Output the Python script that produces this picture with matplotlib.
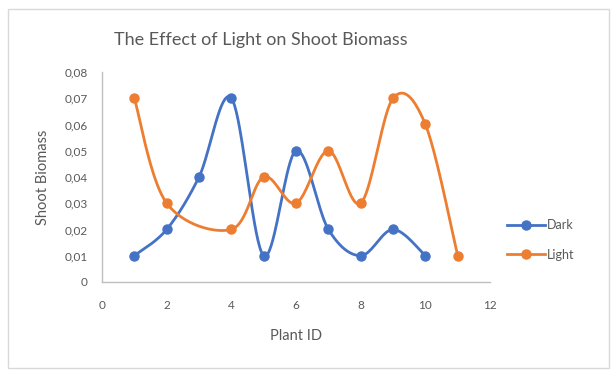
import numpy as np
import matplotlib.pyplot as plt
from matplotlib.patches import Rectangle

plt.rcParams['font.family'] = ['Lato', 'DejaVu Sans']

dark_x = [1, 2, 3, 4, 5, 6, 7, 8, 9, 10]
dark_y = [0.01, 0.02, 0.04, 0.07, 0.01, 0.05, 0.02, 0.01, 0.02, 0.01]
light_x = [1, 2, 4, 5, 6, 7, 8, 9, 10, 11]
light_y = [0.07, 0.03, 0.02, 0.04, 0.03, 0.05, 0.03, 0.07, 0.06, 0.01]

y_ticks = [0, 0.01, 0.02, 0.03, 0.04, 0.05, 0.06, 0.07, 0.08]
y_labels = ["0", "0,01", "0,02", "0,03", "0,04", "0,05", "0,06", "0,07", "0,08"]
x_ticks = [0, 2, 4, 6, 8, 10, 12]


def smooth(xs, ys, n=40):
    # Excel-like smoothed line: cubic bezier with Catmull-Rom control points
    p = np.column_stack([xs, ys]).astype(float)
    p = np.vstack([p[0], p, p[-1]])
    out = []
    t = np.linspace(0, 1, n)[:, None]
    for i in range(1, len(p) - 2):
        p0, p1, p2, p3 = p[i - 1], p[i], p[i + 1], p[i + 2]
        c1 = p1 + (p2 - p0) / 6
        c2 = p2 - (p3 - p1) / 6
        seg = ((1 - t) ** 3) * p1 + 3 * ((1 - t) ** 2) * t * c1 + 3 * (1 - t) * t ** 2 * c2 + t ** 3 * p2
        out.append(seg)
    out = np.vstack(out)
    return out[:, 0], out[:, 1]


blue = '#4472C4'
orange = '#ED7D31'
grey = '#595959'

fig = plt.figure(figsize=(6.16, 3.79), dpi=100)
ax = fig.add_axes([0.1656, 0.2562, 0.63, 0.5538])

sx, sy = smooth(dark_x, dark_y)
ax.plot(sx, sy, color=blue, lw=2)
ax.plot(dark_x, dark_y, 'o', color=blue, ms=6.5)
ax.plot([], [], '-o', color=blue, lw=2, ms=6.5, label='Dark')

sx, sy = smooth(light_x, light_y)
ax.plot(sx, sy, color=orange, lw=2)
ax.plot(light_x, light_y, 'o', color=orange, ms=6.5)
ax.plot([], [], '-o', color=orange, lw=2, ms=6.5, label='Light')

ax.set_xlim(0, 12)
ax.set_ylim(0, 0.08)
ax.set_xticks(x_ticks)
ax.set_yticks(y_ticks)
ax.set_yticklabels(y_labels)
ax.tick_params(length=0, labelsize=8.5, labelcolor=grey)
ax.tick_params(axis='y', pad=10.5)
ax.tick_params(axis='x', pad=13)
for s in ['top', 'right']:
    ax.spines[s].set_visible(False)
for s in ['left', 'bottom']:
    ax.spines[s].set_color('#BFBFBF')
    ax.spines[s].set_linewidth(1)

ax.set_xlabel('Plant ID', fontsize=10.5, color=grey, labelpad=13)
ax.set_ylabel('Shoot Biomass', fontsize=10.5, color=grey, labelpad=10)
fig.text(0.424, 0.895, 'The Effect of Light on Shoot Biomass', fontsize=13, color=grey,
         ha='center', va='center')

ax.legend(loc='center left', bbox_to_anchor=(0.805, 0.367), bbox_transform=fig.transFigure,
          frameon=False, fontsize=9, labelcolor=grey, handlelength=3, handletextpad=0.2,
          labelspacing=1.4)

fig.patches.append(Rectangle((8 / 616, 1 - 368 / 379), 601 / 616, 359 / 379, transform=fig.transFigure,
                             fill=False, edgecolor='#D9D9D9', lw=1))

fig.savefig('out.png', dpi=100)
